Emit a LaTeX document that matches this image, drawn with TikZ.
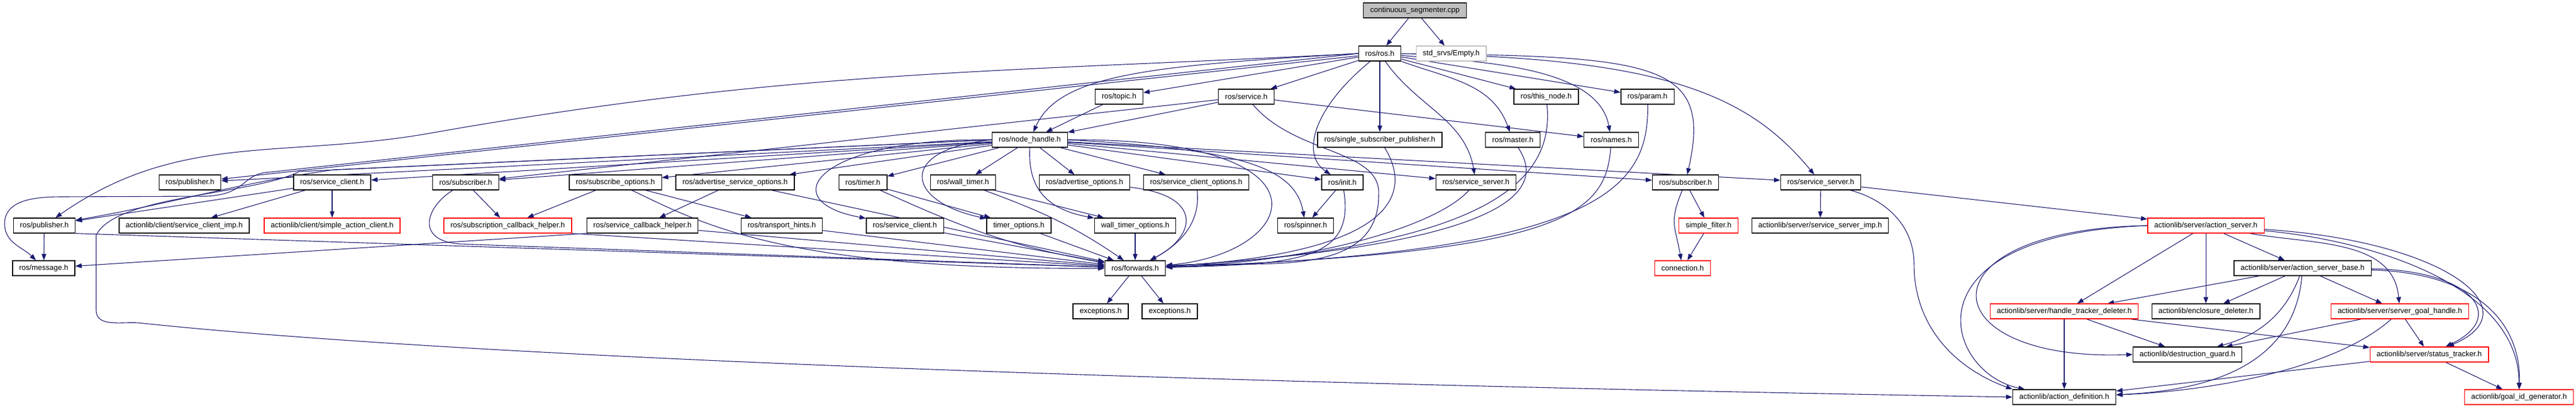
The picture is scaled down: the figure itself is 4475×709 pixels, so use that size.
\documentclass[tikz,border=0pt]{standalone}
\usepackage{fontspec}
\setmainfont{Liberation Sans}
\usetikzlibrary{arrows.meta,backgrounds}
\definecolor{edgeblue}{HTML}{191970}
\definecolor{rootgray}{HTML}{BFBFBF}
\begin{document}
\begin{tikzpicture}[x=1pt, y=1pt,
	n/.style = {draw, line width=1.3pt, fill=white, minimum height=26pt, inner xsep=11.5pt, inner ysep=0pt, font=\fontsize{13}{15}\selectfont},
	nr/.style = {n, draw=red},
	ed/.style = {draw=edgeblue, line width=1.1pt, -{Triangle[length=11pt,width=8pt]}}]
			\useasboundingbox (0,0) rectangle (4475,709);
			\node[n, fill=rootgray] at (2458,691) (cpp) {continuous\_segmenter.cpp};
			\node[n] at (2397,616) (ros) {ros/ros.h};
			\node[n, draw=rootgray] at (2521,616) (empty) {std\_srvs/Empty.h};
			\node[n] at (1944,541) (topic) {ros/topic.h};
			\node[n] at (2165,541) (service) {ros/service.h};
			\node[n] at (2686,541) (thisnode) {ros/this\_node.h};
			\node[n] at (2862,541) (param) {ros/param.h};
			\node[n] at (1789,466) (nh) {ros/node\_handle.h};
			\node[n] at (2397,466) (singlesub) {ros/single\_subscriber\_publisher.h};
			\node[n] at (2628,466) (master) {ros/master.h};
			\node[n] at (2799,466) (names) {ros/names.h};
			\node[n] at (330,392) (pubA) {ros/publisher.h};
			\node[n] at (577,392) (svcclientA) {ros/service\_client.h};
			\node[n] at (809,392) (subA) {ros/subscriber.h};
			\node[n] at (1069,392) (subopts) {ros/subscribe\_options.h};
			\node[n] at (1277,392) (advsvcopts) {ros/advertise\_service\_options.h};
			\node[n] at (1499,392) (timer) {ros/timer.h};
			\node[n] at (1673,392) (walltimer) {ros/wall\_timer.h};
			\node[n] at (1884,392) (advopts) {ros/advertise\_options.h};
			\node[n] at (2078,392) (svcclientopts) {ros/service\_client\_options.h};
			\node[n] at (2332,392) (init) {ros/init.h};
			\node[n] at (2564,392) (svcserverA) {ros/service\_server.h};
			\node[n] at (2928,392) (subB) {ros/subscriber.h};
			\node[n] at (3163,392) (svcserverB) {ros/service\_server.h};
			\node[n] at (77,317) (pubB) {ros/publisher.h};
			\node[n] at (320,317) (scimp) {actionlib/client/service\_client\_imp.h};
			\node[nr] at (577,317) (sac) {actionlib/client/simple\_action\_client.h};
			\node[nr] at (882,317) (subcb) {ros/subscription\_callback\_helper.h};
			\node[n] at (1116,317) (svccb) {ros/service\_callback\_helper.h};
			\node[n] at (1358,317) (transhints) {ros/transport\_hints.h};
			\node[n] at (1572,317) (svcclientB) {ros/service\_client.h};
			\node[n] at (1770,317) (timeropts) {timer\_options.h};
			\node[n] at (1972,317) (walltimeropts) {wall\_timer\_options.h};
			\node[n] at (2268,317) (spinner) {ros/spinner.h};
			\node[nr] at (2968,317) (simplefilter) {simple\_filter.h};
			\node[n] at (3162,317) (ssimp) {actionlib/server/service\_server\_imp.h};
			\node[nr] at (3832,317) (actionserver) {actionlib/server/action\_server.h};
			\node[n] at (76,243) (message) {ros/message.h};
			\node[n] at (1972,243) (forwards) {ros/forwards.h};
			\node[nr] at (2923,243) (connection) {connection.h};
			\node[n] at (4000,243) (asbase) {actionlib/server/action\_server\_base.h};
			\node[n] at (1912,168) (exc1) {exceptions.h};
			\node[n] at (2032,168) (exc2) {exceptions.h};
			\node[nr] at (3586,168) (htdeleter) {actionlib/server/handle\_tracker\_deleter.h};
			\node[n] at (3832,168) (encl) {actionlib/enclosure\_deleter.h};
			\node[nr] at (4169,168) (sgh) {actionlib/server/server\_goal\_handle.h};
			\node[n] at (3800,93) (destguard) {actionlib/destruction\_guard.h};
			\node[nr] at (4220,93) (statustracker) {actionlib/server/status\_tracker.h};
			\node[n] at (3586,19) (actiondef) {actionlib/action\_definition.h};
			\node[nr] at (4376,19) (goalid) {actionlib/goal\_id\_generator.h};
			\begin{pgfonlayer}{background}
			\draw[ed] (cpp) -- (ros);
			\draw[ed] (cpp) -- (empty);
			\draw[ed] (ros) -- (topic);
			\draw[ed] (ros) -- (service);
			\draw[ed] (ros) -- (thisnode);
			\draw[ed] (ros) -- (param);
			\draw[ed] (ros) -- (singlesub);
			\draw[ed] (ros) -- (pubA);
			\draw[ed] (ros.west) .. controls (1729,583) and (1373,588) .. (750,478) .. controls (491,432) and (311,481) .. (pubB);
			\draw[ed] (ros.west) -- (470,410) .. controls (420,408) and (430,372) .. (360,368) -- (110,367) .. controls (66,367) and (8,364) .. (8,320) .. controls (8,287) and (40,279) .. (message);
			\draw[ed] (ros.west) .. controls (2000,595) and (1840,580) .. (nh);
			\draw[ed] (ros) .. controls (2280,520) and (2260,440) .. (init);
			\draw[ed] (ros) .. controls (2462,523) and (2545,502) .. (svcserverA);
			\draw[ed] (ros) .. controls (2518,572) and (2592,564) .. (master);
			\draw[ed] (ros) .. controls (2554,602) and (2776,598) .. (names);
			\draw[ed] (ros) .. controls (2880,612) and (2975,600) .. (subB);
			\draw[ed] (ros) .. controls (2900,610) and (3040,540) .. (svcserverB);
			\draw[ed] (topic) -- (nh);
			\draw[ed] (service) -- (nh);
			\draw[ed] (service) -- (subA);
			\draw[ed] (service) -- (names);
			\draw[ed] (service) .. controls (2250,440) and (2400,450) .. (2395,370) .. controls (2395,218) and (2176,258) .. (forwards);
			\draw[ed] (nh) -- (pubA);
			\draw[ed] (nh) -- (svcclientA);
			\draw[ed] (nh) -- (subA);
			\draw[ed] (nh) -- (subopts);
			\draw[ed] (nh) -- (advsvcopts);
			\draw[ed] (nh) -- (timer);
			\draw[ed] (nh) -- (walltimer);
			\draw[ed] (nh) -- (advopts);
			\draw[ed] (nh) -- (svcclientopts);
			\draw[ed] (nh) -- (init);
			\draw[ed] (nh) -- (svcserverA);
			\draw[ed] (nh) -- (subB);
			\draw[ed] (nh) -- (svcserverB);
			\draw[ed] (nh.west) .. controls (1420,470) and (1340,360) .. (svcclientB);
			\draw[ed] (nh.west) .. controls (1560,450) and (1570,360) .. (timeropts);
			\draw[ed] (nh.south) .. controls (1785,380) and (1820,345) .. (walltimeropts);
			\draw[ed] (nh.east) .. controls (2150,450) and (2250,420) .. (spinner);
			\draw[ed] (nh.east) .. controls (2330,470) and (2260,270) .. (forwards);
			\draw[ed] (nh.west) -- (580,414) .. controls (407,390) and (303,356) .. (pubB);
			\draw[ed] (nh.west) -- (520,411) .. controls (440,370) and (200,370) .. (167,300) -- (167,170) .. controls (167,140) and (210,150) .. (240,148) .. controls (1000,68) and (2733,32) .. (actiondef.west);
			\draw[ed] (svcclientA) -- (pubB);
			\draw[ed] (svcclientA) -- (scimp);
			\draw[ed] (svcclientA) -- (sac);
			\draw[ed] (subA) -- (subcb);
			\draw[ed] (subA) .. controls (740,350) and (720,290) .. (800,285) -- (forwards);
			\draw[ed] (subopts) -- (subcb);
			\draw[ed] (subopts) -- (transhints);
			\draw[ed] (subopts) .. controls (1220,320) and (1360,240) .. (forwards);
			\draw[ed] (advsvcopts) -- (svccb);
			\draw[ed] (advsvcopts) -- (forwards);
			\draw[ed] (svccb.south west) -- (message);
			\draw[ed] (svccb) -- (forwards);
			\draw[ed] (subcb.south east) -- (forwards);
			\draw[ed] (transhints) -- (forwards);
			\draw[ed] (pubB) -- (message);
			\draw[ed] (pubB.south east) -- (forwards);
			\draw[ed] (timer) -- (timeropts);
			\draw[ed] (timer) .. controls (1680,310) and (1760,280) .. (forwards);
			\draw[ed] (walltimer) -- (walltimeropts);
			\draw[ed] (walltimer) .. controls (1800,345) and (1860,320) .. (forwards);
			\draw[ed] (advopts) .. controls (2090,370) and (2080,300) .. (forwards);
			\draw[ed] (svcclientopts) .. controls (2085,330) and (2060,290) .. (forwards);
			\draw[ed] (svcclientB) -- (forwards);
			\draw[ed] (timeropts) -- (forwards);
			\draw[ed] (walltimeropts) -- (forwards);
			\draw[ed] (init) -- (spinner);
			\draw[ed] (init) .. controls (2355,255) and (2250,250) .. (forwards);
			\draw[ed] (svcserverA) .. controls (2500,320) and (2300,255) .. (forwards);
			\draw[ed] (singlesub) .. controls (2450,380) and (2440,270) .. (forwards);
			\draw[ed] (master) .. controls (2700,360) and (2560,280) .. (forwards);
			\draw[ed] (thisnode) .. controls (2700,400) and (2600,280) .. (forwards);
			\draw[ed] (names) .. controls (2790,330) and (2700,270) .. (forwards);
			\draw[ed] (param) .. controls (2865,380) and (2780,270) .. (forwards);
			\draw[ed] (forwards) -- (exc1);
			\draw[ed] (forwards) -- (exc2);
			\draw[ed] (subB) -- (simplefilter);
			\draw[ed] (subB) .. controls (2899,322) and (2910,317) .. (connection);
			\draw[ed] (simplefilter) -- (connection);
			\draw[ed] (svcserverB) -- (ssimp);
			\draw[ed] (svcserverB) -- (actionserver);
			\draw[ed] (svcserverB) .. controls (3276,362) and (3325,317) .. (3325,250) .. controls (3325,142) and (3396,69) .. (actiondef.north west);
			\draw[ed] (actionserver) -- (htdeleter);
			\draw[ed] (actionserver) -- (encl);
			\draw[ed] (actionserver) -- (asbase);
			\draw[ed] (actionserver) .. controls (4017,284) and (4158,294) .. (sgh);
			\draw[ed] (actionserver) .. controls (4250,290) and (4400,170) .. (statustracker);
			\draw[ed] (actionserver) .. controls (4115,292) and (4376,215) .. (goalid);
			\draw[ed] (actionserver.west) .. controls (3330,310) and (3350,80) .. (destguard.west);
			\draw[ed] (actionserver.west) .. controls (3300,300) and (3380,60) .. (actiondef);
			\draw[ed] (asbase) -- (htdeleter);
			\draw[ed] (asbase) -- (encl);
			\draw[ed] (asbase) -- (sgh);
			\draw[ed] (asbase) .. controls (3969,160) and (3920,125) .. (destguard);
			\draw[ed] (asbase) .. controls (3985,70) and (3830,30) .. (actiondef);
			\draw[ed] (asbase) .. controls (4290,240) and (4360,160) .. (statustracker);
			\draw[ed] (asbase) .. controls (4300,235) and (4380,150) .. (goalid);
			\draw[ed] (htdeleter) -- (destguard);
			\draw[ed] (htdeleter) -- (actiondef);
			\draw[ed] (htdeleter) -- (statustracker);
			\draw[ed] (sgh) -- (destguard);
			\draw[ed] (sgh) -- (statustracker);
			\draw[ed] (sgh) .. controls (4060,70) and (3850,30) .. (actiondef);
			\draw[ed] (statustracker) -- (actiondef);
			\draw[ed] (statustracker) -- (goalid);
			\end{pgfonlayer}
		\end{tikzpicture}
\end{document}
